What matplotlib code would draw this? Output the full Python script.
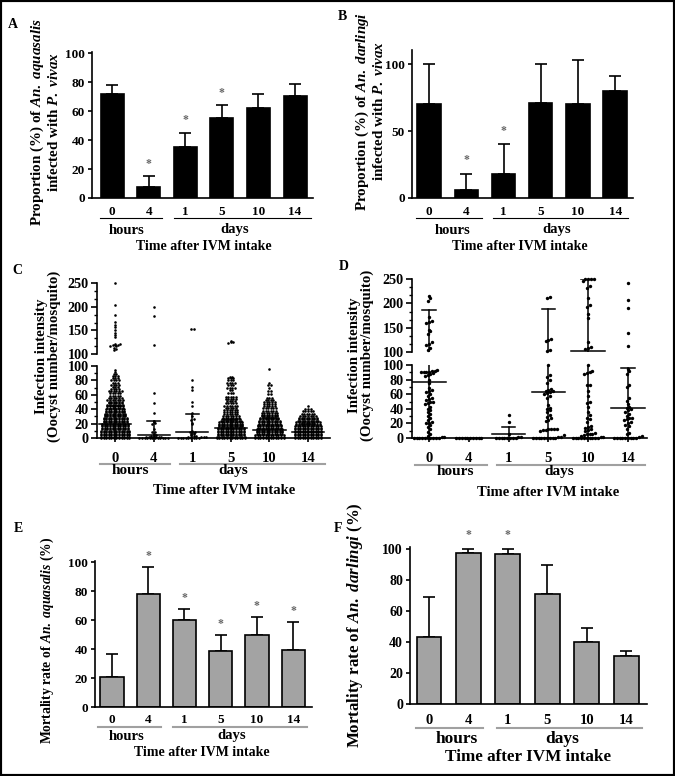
import matplotlib
matplotlib.use('Agg')
import matplotlib.pyplot as plt
import numpy as np
from matplotlib.lines import Line2D
from matplotlib.patches import Rectangle
from matplotlib.ticker import MultipleLocator
from matplotlib.transforms import blended_transform_factory

W, H = 675, 776

times = ['0', '4', '1', '5', '10', '14']

# A / B: proportion infected (mean, upper error)
a_mean = [72, 7.5, 35, 55, 62, 70.5]
a_err = [6, 7.5, 10, 9, 10, 8.5]
a_star = [0, 1, 1, 1, 0, 0]
b_mean = [70, 6, 18, 71, 70, 80]
b_err = [30, 12, 22, 29, 33, 11]
b_star = [0, 1, 1, 0, 0, 0]

# E / F: mortality
e_mean = [21, 78, 60, 39, 50, 39.5]
e_err = [16, 19, 8, 11, 12, 19.5]
e_star = [0, 1, 1, 1, 1, 1]
f_mean = [43, 97, 96.5, 71, 40, 31]
f_err = [26, 3, 3.5, 18.5, 9, 3]
f_star = [0, 1, 1, 0, 0, 0]

# C: oocyst counts (dense groups given as level + count)
c_h0_lvl = [0, 2, 4, 6, 8, 10, 12, 14, 16, 18, 20, 22, 24, 26, 28, 30, 32, 34, 36, 38, 40,
            42, 44, 46, 48, 50, 53, 56, 59, 62, 65, 68, 71, 74, 77, 80, 83, 86, 89, 92, 95]
c_h0_cnt = [12, 12, 12, 12, 12, 12, 11, 11, 11, 11, 11, 10, 10, 10, 10, 9, 9, 9, 8, 8, 8,
            7, 7, 7, 6, 6, 7, 6, 5, 5, 6, 4, 3, 4, 3, 4, 3, 3, 2, 1, 1]
c_h0_hi = [250, 203, 182, 168, 162, 157, 150, 145, 141, 137, 122, 121, 120, 120, 119, 118,
           116, 113, 110, 108]
c_h4 = [200, 180, 120, 62, 49, 35, 24, 22, 21, 20, 12, 8, 8, 5, 4, 3, 3, 2, 2, 2, 1, 1, 1, 1,
        0, 0, 0, 0, 0, 0, 0, 0, 0, 0, 0, 0]
c_d1 = [152, 152, 81, 71, 66, 50, 44, 35, 31, 26, 25, 21, 19, 10, 9, 8, 8, 7, 6, 5, 4, 3, 3,
        2, 2, 1, 1, 1, 0, 0, 0, 0, 0, 0, 0, 0, 0]
c_d5_lvl = [0, 2, 4, 6, 8, 10, 12, 14, 16, 18, 20, 22, 24, 26, 28, 30, 33, 36, 39, 42, 45,
            48, 51, 54, 57, 62, 66, 70, 73, 76, 80, 83, 85]
c_d5_cnt = [12, 12, 11, 11, 11, 11, 11, 11, 10, 10, 10, 10, 9, 8, 7, 7, 6, 6, 6, 5, 6,
            5, 4, 5, 5, 3, 2, 4, 3, 4, 3, 3, 2]
c_d5_hi = [128, 126, 126, 123]
c_d10_lvl = [0, 2, 4, 6, 8, 10, 12, 14, 16, 18, 20, 22, 24, 26, 28, 30, 32, 35, 38, 41, 44,
             47, 50, 53, 56, 61, 65, 70, 74, 76, 96]
c_d10_cnt = [12, 12, 12, 11, 11, 11, 11, 10, 10, 10, 9, 9, 9, 8, 8, 7, 7, 7, 6, 6, 5,
             5, 5, 4, 3, 2, 2, 1, 2, 1, 1]
c_d14_lvl = [0, 2, 4, 6, 8, 10, 12, 14, 16, 18, 20, 22, 24, 26, 28, 31, 34, 37, 40, 45]
c_d14_cnt = [11, 11, 11, 11, 11, 11, 11, 11, 11, 10, 10, 10, 9, 8, 8, 7, 6, 5, 3, 1]
c_mid = [20, 3.5, 8, 14, 11, 8]
c_top = [44, 23, 33, 25, 28, 20]

# D: oocyst counts
d_h0 = [216, 211, 206, 172, 164, 162, 160, 146, 143, 137, 120, 117, 115, 108, 105,
        93, 92, 92, 91, 91, 90, 90, 89, 88, 86, 85, 80, 75, 68, 66, 65, 63, 60, 57, 55, 53,
        52, 50, 50, 48, 46, 42, 40, 38, 35, 33, 30, 28, 25, 22, 20, 20, 18, 15, 12, 8, 5, 3,
        2, 1, 0, 0, 0, 0, 0, 0, 0, 0, 0, 0]
d_h4 = [0, 0, 0, 0, 0, 0, 0, 0, 0, 0]
d_d1 = [31, 22, 5, 2, 1, 0, 0, 0, 0, 0, 0, 0, 0]
d_d5 = [213, 211, 127, 125, 123, 104, 102, 100, 86, 83, 79, 76, 67, 66, 65, 64, 63, 62, 60,
        58, 55, 45, 41, 40, 38, 35, 31, 29, 27, 25, 23, 13, 13, 12, 12, 11, 11, 10, 4, 2,
        1, 0, 0, 0, 0, 0, 0, 0, 0, 0]
d_d10 = [250, 250, 250, 250, 246, 236, 232, 212, 196, 193, 178, 170, 120, 111, 109, 106,
         100, 92, 90, 89, 88, 73, 72, 65, 58, 50, 48, 42, 36, 31, 28, 26, 22, 17, 15, 14, 13,
         11, 9, 7, 6, 5, 5, 4, 3, 2, 1, 0, 0, 0, 0, 0, 0, 0, 0, 0, 0]
d_d14 = [242, 207, 190, 140, 112, 95, 92, 88, 72, 70, 55, 51, 46, 43, 41, 40, 38, 36, 33,
         30, 28, 27, 26, 24, 22, 20, 18, 16, 12, 7, 5, 3, 1, 0, 0, 0, 0, 0, 0, 0, 0, 0]
d_mid = [77, 0, 5, 63, 103, 41]
d_top = [187, 0, 15, 188, 250, 96]

plt.rcParams['font.family'] = ['Liberation Serif', 'DejaVu Serif']
plt.rcParams['font.weight'] = 'bold'
plt.rcParams['mathtext.fontset'] = 'custom'
plt.rcParams['mathtext.rm'] = 'Liberation Serif:bold'
plt.rcParams['mathtext.it'] = 'Liberation Serif:italic:bold'
plt.rcParams['axes.linewidth'] = 1.2

fig = plt.figure(figsize=(W / 100, H / 100), dpi=100)


def fx(x):
    return x / W


def fy(y):
    return 1 - y / H


def box(l, t, r, b):
    ax = fig.add_axes([fx(l), fy(b), (r - l) / W, (b - t) / H])
    ax.spines[['top', 'right']].set_visible(False)
    ax.patch.set_alpha(0)
    return ax


def time_axis(ax, lab_y, line_y, hours, days, text_y, xl, fs, fs2, col, lw):
    tr = blended_transform_factory(ax.transData, fig.transFigure)
    for i, t in enumerate(times):
        ax.text(i, fy(lab_y), t, transform=tr, ha='center', va='center', fontsize=fs)
    for x0, x1 in (hours[:2], days[:2]):
        fig.add_artist(Line2D([fx(x0), fx(x1)], [fy(line_y)] * 2, color=col, lw=lw))
    fig.text(fx(hours[2]), fy(text_y), 'hours', ha='center', va='center', fontsize=fs2)
    fig.text(fx(days[2]), fy(text_y), 'days', ha='center', va='center', fontsize=fs2)
    fig.text(fx(xl[0]), fy(xl[1]), 'Time after IVM intake', ha='center', va='center',
             fontsize=xl[2])


def bar_panel(ax, mean, err, star, color, ylim, yticks, xlim, width, fs, soff):
    x = np.arange(len(mean))
    ax.bar(x, mean, width=width, color=color, edgecolor='black', linewidth=1.2, zorder=2)
    ax.errorbar(x, mean, yerr=[np.zeros(len(err)), err], fmt='none', ecolor='black',
                elinewidth=1.2, capsize=4.3, capthick=1.2, zorder=1)
    for xi, m, e, s in zip(x, mean, err, star):
        if s:
            ax.annotate('*', (xi, m + e), xytext=(0, soff), textcoords='offset points',
                        ha='center', va='center', fontsize=8.5, color='#666666',
                        annotation_clip=False)
    ax.set_xlim(xlim)
    ax.set_ylim(ylim)
    ax.set_yticks(yticks)
    ax.set_xticks([])
    ax.tick_params(axis='y', direction='out', length=3, width=1.2, labelsize=fs, pad=2)


def swarm(vals, dy, dx, nmax):
    v = np.sort(np.asarray(vals, float))
    xs = np.zeros_like(v)
    i = 0
    while i < len(v):
        j = i
        while j + 1 < len(v) and v[j + 1] - v[i] < dy and j - i + 1 < nmax:
            j += 1
        k = j - i + 1
        xs[i:j + 1] = (np.arange(k) - (k - 1) / 2) * dx
        i = j + 1
    return xs, v


def dot_panel(lo, hi, groups, mid, top, xlim, dx, ms, fs, dys):
    for i, vals in enumerate(groups):
        v = np.asarray(vals, float)
        for ax, sel, dy in ((lo, v <= 100, dys[0]), (hi, v > 100, dys[1])):
            xs, ys = swarm(v[sel], dy, dx, 12)
            ax.scatter(i + xs, ys, s=ms, color='black', linewidths=0, clip_on=False, zorder=3)
        if top[i] > 0:
            bot = max(0, 2 * mid[i] - top[i])
            for ax in (lo, hi):
                ax.plot([i, i], [bot, top[i]], color='black', lw=1.1, zorder=2)
                ax.plot([i - 0.42, i + 0.42], [mid[i]] * 2, color='black', lw=1.1, zorder=2)
                ax.plot([i - 0.17, i + 0.17], [top[i]] * 2, color='black', lw=1.1, zorder=2)
    lo.set_xlim(xlim)
    hi.set_xlim(xlim)
    lo.set_ylim(0, 100)
    hi.set_ylim(100, 250.5)
    lo.set_yticks([0, 20, 40, 60, 80, 100])
    lo.yaxis.set_minor_locator(MultipleLocator(10))
    hi.set_yticks([100, 150, 200, 250])
    hi.yaxis.set_minor_locator(MultipleLocator(50 / 3))
    hi.spines['bottom'].set_visible(False)
    hi.set_xticks([])
    lo.set_xticks(range(6))
    lo.set_xticklabels([])
    for ax in (lo, hi):
        ax.tick_params(axis='y', which='major', direction='out', length=4, width=1.2,
                       labelsize=fs, pad=2)
        ax.tick_params(axis='y', which='minor', direction='out', length=2.5, width=1)
    lo.tick_params(axis='x', direction='out', length=3, width=1.2)


# A
axA = box(92, 52, 313, 198)
bar_panel(axA, a_mean, a_err, a_star, 'black', (0, 101), [0, 20, 40, 60, 80, 100],
          (-0.55, 5.49), 0.63, 9.5, 9)
time_axis(axA, 212, 218, (100, 162, 127), (174, 311, 235), 230, (204, 247, 10), 9.5, 10.5,
          'black', 0.8)
fig.text(fx(45), fy(122), 'Proportion (%) of $\\mathit{An.\\ aquasalis}$\ninfected with '
         '$\\mathit{P.\\ vivax}$', rotation=90, ha='center', va='center',
         multialignment='center', fontsize=10.8, linespacing=1.05)
fig.text(fx(13), fy(24), 'A', ha='center', va='center', fontsize=10)

# B
axB = box(412, 50, 633, 198)
bar_panel(axB, b_mean, b_err, b_star, 'black', (0, 110.5), [0, 50, 100],
          (-0.46, 5.48), 0.63, 9.5, 10)
time_axis(axB, 212, 218, (416, 482, 453), (493, 628, 557), 230, (520, 247, 10), 9.5, 10.5,
          'black', 0.8)
fig.text(fx(370), fy(111), 'Proportion (%) of $\\mathit{An.\\ darlingi}$\ninfected with '
         '$\\mathit{P.\\ vivax}$', rotation=90, ha='center', va='center',
         multialignment='center', fontsize=10.8, linespacing=1.05)
fig.text(fx(342), fy(16), 'B', ha='center', va='center', fontsize=10)

# C
c_groups = [np.r_[np.repeat(c_h0_lvl, c_h0_cnt), c_h0_hi], c_h4, c_d1,
            np.r_[np.repeat(c_d5_lvl, c_d5_cnt), c_d5_hi],
            np.repeat(c_d10_lvl, c_d10_cnt), np.repeat(c_d14_lvl, c_d14_cnt)]
axC_lo = box(97, 366, 330, 438)
axC_hi = box(97, 283, 330, 354)
dot_panel(axC_lo, axC_hi, c_groups, c_mid, c_top, (-0.47, 5.57), 0.067, 3.5, 10.2,
          (1.2, 4.0))
time_axis(axC_lo, 458, 464, (100, 170, 130), (180, 325, 233), 471, (224, 490, 10.5), 10.5,
          11, '#a0a0a0', 1.5)
fig.text(fx(48), fy(356), 'Infection intensity\n(Oocyst number/mosquito)', rotation=90,
         ha='center', va='center', multialignment='center', fontsize=10.7, linespacing=1.0)
fig.text(fx(17), fy(270), 'C', ha='center', va='center', fontsize=10)

# D
d_groups = [d_h0, d_h4, d_d1, d_d5, d_d10, d_d14]
axD_lo = box(412, 365, 647, 438)
axD_hi = box(412, 279, 647, 352)
dot_panel(axD_lo, axD_hi, d_groups, d_mid, d_top, (-0.43, 5.48), 0.07, 6, 10.2,
          (5.0, 8.0))
time_axis(axD_lo, 458, 465, (415, 487, 455), (497, 645, 559), 472, (548, 493, 10.5), 10.5,
          11, '#a0a0a0', 1.5)
fig.text(fx(361), fy(355), 'Infection intensity\n(Oocyst number/mosquito)', rotation=90,
         ha='center', va='center', multialignment='center', fontsize=10.7, linespacing=1.0)
fig.text(fx(344), fy(267), 'D', ha='center', va='center', fontsize=10)

# E
axE = box(95, 561, 312, 707)
bar_panel(axE, e_mean, e_err, e_star, '#a3a3a3', (0, 101), [0, 20, 40, 60, 80, 100],
          (-0.47, 5.52), 0.64, 9.5, 8)
time_axis(axE, 720, 727, (98, 161, 127), (173, 307, 232), 736, (202, 753, 10), 9.5, 10.5,
          '#a0a0a0', 1.5)
fig.text(fx(47), fy(640), 'Mortality rate of $\\mathit{An.\\ aquasalis}$ (%)', rotation=90,
         ha='center', va='center', fontsize=9.8)
fig.text(fx(18), fy(528), 'E', ha='center', va='center', fontsize=10)

# F
axF = box(410, 547, 647, 704)
bar_panel(axF, f_mean, f_err, f_star, '#a3a3a3', (0, 101), [0, 20, 40, 60, 80, 100],
          (-0.48, 5.53), 0.63, 10, 10)
time_axis(axF, 720, 728, (416, 483, 457), (497, 642, 562), 739, (528, 757, 12.3), 10.5,
          12.5, '#a0a0a0', 1.5)
fig.text(fx(355), fy(625), 'Mortality rate of $\\mathit{An.\\ darlingi}$ (%)', rotation=90,
         ha='center', va='center', fontsize=12.2)
fig.text(fx(338), fy(529), 'F', ha='center', va='center', fontsize=10)

fig.add_artist(Rectangle((0, 0), 1, 1, transform=fig.transFigure, fill=False,
                         edgecolor='black', lw=3))

fig.savefig('out.png', dpi=100)
